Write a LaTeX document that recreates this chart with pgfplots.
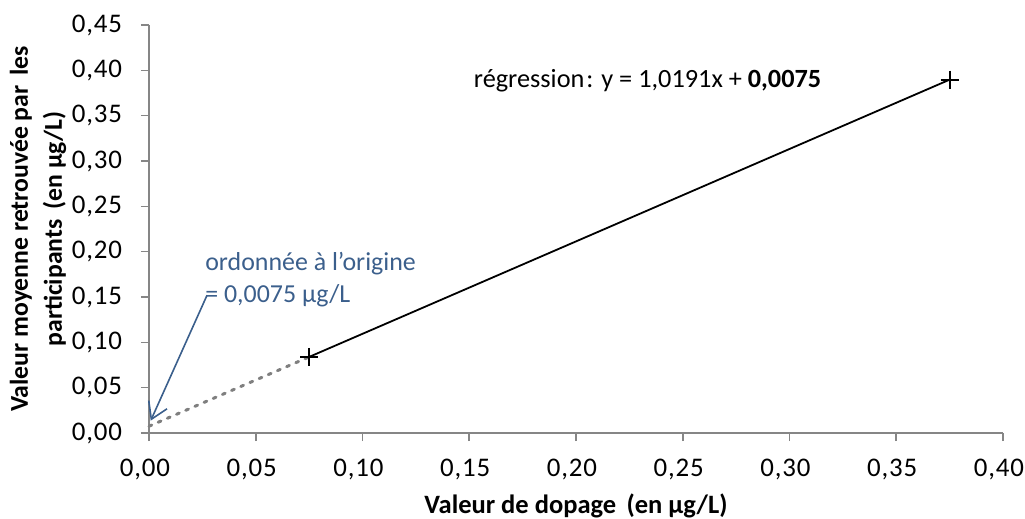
\documentclass[border=0pt]{standalone}
\usepackage{pgfplots}
\pgfplotsset{compat=1.18}
\usepackage{fontspec}
\setmainfont{Carlito}
\usetikzlibrary{arrows.meta}
\definecolor{axgray}{HTML}{868686}
\definecolor{annblue}{HTML}{3B5F8C}
\definecolor{dotgray}{HTML}{7F7F7F}
\begin{document}
\begin{tikzpicture}
\useasboundingbox (-74.5bp,-43bp) rectangle (438bp,216.5bp);
\begin{axis}[
  at={(0,0)}, anchor=south west,
  scale only axis, width=427bp, height=204bp,
  xmin=0, xmax=0.40, ymin=0, ymax=0.45,
  axis x line*=bottom, axis y line*=left,
  axis line style={axgray, line width=0.8bp, -},
  xtick={0,0.05,...,0.41}, ytick={0,0.05,...,0.46},
  tick align=outside, major tick length=4bp,
  tick style={axgray, line width=0.8bp},
  minor tick num=0,
  /pgf/number format/.cd, use comma, fixed, fixed zerofill, precision=2, assume math mode=true,
  /pgfplots/.cd,
  tick label style={font=\fontsize{13.5}{15}\selectfont\addfontfeature{LetterSpace=3}, black},
  xticklabel style={yshift=-5.5bp, xshift=-2bp},
  yticklabel style={xshift=-6bp},
  xlabel={\textbf{Valeur de dopage\, (en µg/L)}},
  xlabel style={font=\fontsize{13.3}{15}\selectfont, at={(axis description cs:0.5,0)}, anchor=center, yshift=-36.5bp},
  ylabel={\textbf{Valeur moyenne retrouvée par\, les}\\\textbf{participants\, (en µg/L)}},
  ylabel style={font=\fontsize{12.9}{17}\selectfont, align=center, at={(axis description cs:0,0.5)}, anchor=center, yshift=55.5bp},
  clip=false,
]
\addplot[dotgray, line width=1.5bp, dash pattern=on 1.5bp off 3.5bp, line cap=round] coordinates {(0,0.0075) (0.075,0.0839)};
\addplot[black, line width=0.9bp, mark=+, mark size=4.5bp, mark options={line width=0.9bp}] coordinates {(0.075,0.0839) (0.375,0.3897)};
\node[anchor=west, font=\fontsize{13.2}{15}\selectfont, inner sep=0] at (axis cs:0.152,0.389) {régression\kern1pt: y = 1,0191x + \textbf{0,0075}};
\draw[annblue, line width=0.8bp, -{Straight Barb[length=8bp,width=10bp]}] (axis cs:0.0272,0.152) -- (axis cs:0.0008,0.0136);
\node[anchor=north west, align=left, text=annblue, font=\fontsize{13}{16}\selectfont, inner sep=0] at (axis cs:0.0262,0.200) {ordonnée à l\symbol{39}origine\\= 0,0075 µg/L};
\end{axis}
\end{tikzpicture}
\end{document}
